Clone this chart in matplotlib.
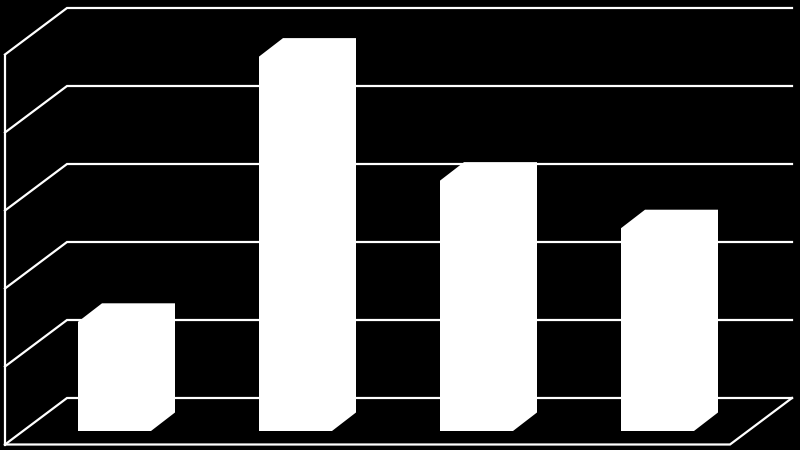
import matplotlib
matplotlib.use("Agg")
import matplotlib.pyplot as plt

values = [1.4, 4.8, 3.21, 2.6]
grid_levels = [0, 1, 2, 3, 4, 5]

FG = "white"
PX_X = 181.0   # pixels per category step
PX_Y = 78.0    # pixels per value unit
LW = 1.6

# Oblique projection parameters (in data units)
bar_half = 36.5 / PX_X
bar_dx, bar_dy = 24 / PX_X, 18.5 / PX_Y
floor_left, floor_right = (5 - 114.5) / PX_X, (730 - 114.5) / PX_X
floor_front = (431 - 444.5) / PX_Y
wall_dx, wall_dy = 62 / PX_X, 46.5 / PX_Y

fig = plt.figure(figsize=(8, 4.5), dpi=100, facecolor="black")
ax = fig.add_axes([0, 0, 1, 1], facecolor="black")
ax.set_xlim(-114.5 / PX_X, (800 - 114.5) / PX_X)
ax.set_ylim((431 - 450) / PX_Y, 431 / PX_Y)
ax.axis("off")

line = dict(color=FG, lw=LW, solid_capstyle="projecting", solid_joinstyle="miter", zorder=1)

# Floor outline
ax.plot([floor_left, floor_right, floor_right + wall_dx],
        [floor_front, floor_front, floor_front + wall_dy], **line)

# Left wall edge
ax.plot([floor_left, floor_left],
        [floor_front, floor_front + grid_levels[-1]], **line)

# Gridlines: side wall and back wall
for g in grid_levels:
    y = floor_front + g
    ax.plot([floor_left, floor_left + wall_dx, floor_right + wall_dx],
            [y, y + wall_dy, y + wall_dy], **line)

# Bars as oblique prisms
for i, v in enumerate(values):
    l, r = i - bar_half, i + bar_half
    ax.fill([l, r, r + bar_dx, r + bar_dx, l + bar_dx, l],
            [0, 0, bar_dy, v + bar_dy, v + bar_dy, v],
            facecolor=FG, edgecolor="none", zorder=3)

fig.savefig("out.png", dpi=100, facecolor="black")
